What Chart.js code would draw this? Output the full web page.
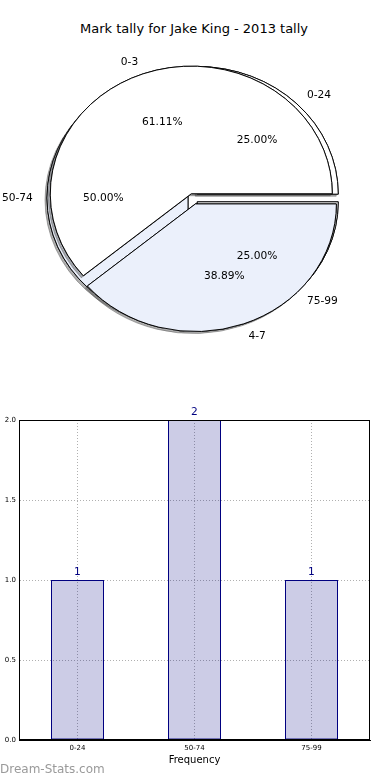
<!DOCTYPE html>
<html>
<head>
<meta charset="utf-8">
<script src="https://cdn.jsdelivr.net/npm/chart.js@4.4.1/dist/chart.umd.min.js"></script>
<style>
    body { margin: 0; background: #fff; }
    #pagina { position: relative; width: 390px; height: 780px; overflow: hidden; font-family: "DejaVu Sans", sans-serif; }
    #titulo { position: absolute; left: 0; top: 21px; width: 388px; text-align: center; font-size: 13px; color: #000; }
    canvas { position: absolute; left: 0; }
    #marca { position: absolute; left: 0; top: 762px; font-size: 12px; color: #9a9a9a; }
</style>
</head>
<body>
<div id="pagina">
    <div id="titulo">Mark tally for Jake King - 2013 tally</div>
    <canvas id="pizzaFundo" width="386" height="330" style="top:33px"></canvas>
    <canvas id="pizzaFrente" width="386" height="330" style="top:33px"></canvas>
    <canvas id="barras" width="390" height="400" style="top:380px"></canvas>
    <div id="marca">Dream-Stats.com</div>
</div>
<script>
// dados
const notas = ["0-3", "4-7"];
const notasPct = [61.11, 38.89];

const faixas = ["0-24", "50-74", "75-99"];
const faixasPct = [25.00, 50.00, 25.00];
const frequencias = [1, 2, 1];

const yTicks = [0, 0.5, 1, 1.5, 2];

// estilo
const SQUASH = 0.905;
const azulClaro = "#ebf0fb";
const azul = "#000080";

// chart.js gira no sentido horario, o matplotlib no anti-horario -> inverte
function inv(lista) { return lista.slice().reverse(); }

const desenhaPizza = {
    id: "desenhaPizza",
    beforeDatasetsDraw(chart) {
        const ctx = chart.ctx;
        const arcs = chart.getDatasetMeta(0).data;
        const explode = chart.data.datasets[0].explode;
        [true, false].forEach(comSombra => {
            arcs.forEach((arc, i) => {
                const meio = (arc.startAngle + arc.endAngle) / 2;
                const e = explode[i];
                ctx.save();
                if (comSombra) {
                    ctx.shadowColor = "rgba(77,77,77,0.45)";
                    ctx.shadowOffsetX = -2;
                    ctx.shadowOffsetY = 2;
                }
                ctx.translate(arc.x + e * Math.cos(meio), arc.y + e * Math.sin(meio) * SQUASH);
                ctx.scale(1, SQUASH);
                ctx.translate(-arc.x, -arc.y);
                arc.draw(ctx);
                ctx.restore();
            });
        });
        return false;
    }
};

function escreveRotulos(ctx, c) {
    const arcs = c.getDatasetMeta(0).data;
    const ds = c.data.datasets[0];
    ctx.save();
    ctx.fillStyle = "#000";
    ctx.font = '10.67px "DejaVu Sans"';
    ctx.textBaseline = "middle";
    arcs.forEach((arc, i) => {
        const meio = (arc.startAngle + arc.endAngle) / 2;
        const cos = Math.cos(meio), sin = Math.sin(meio);
        const e = ds.explode[i];
        const R = arc.outerRadius;
        const d1 = e + 1.1 * R;
        const d2 = e + 0.6 * R;
        ctx.textAlign = cos > 0 ? "left" : "right";
        ctx.fillText(c.data.labels[i], arc.x + d1 * cos, arc.y + d1 * sin * SQUASH);
        ctx.textAlign = "center";
        ctx.fillText(ds.data[i].toFixed(2) + "%", arc.x + d2 * cos, arc.y + d2 * sin * SQUASH);
    });
    ctx.restore();
}

function opcoesPizza() {
    return {
        responsive: false,
        animation: false,
        events: [],
        radius: 141,
        rotation: 90,
        layout: { padding: 0 },
        plugins: { legend: { display: false }, tooltip: { enabled: false } }
    };
}

const pizzaFundo = new Chart(document.getElementById("pizzaFundo"), {
    type: "pie",
    data: {
        labels: inv(faixas),
        datasets: [{
            data: inv(faixasPct),
            backgroundColor: ["#ffffff", azulClaro, "#ffffff"],
            borderColor: "#000",
            borderWidth: 1,
            explode: [6, 5, 6]
        }]
    },
    options: opcoesPizza(),
    plugins: [desenhaPizza]
});

const pizzaFrente = new Chart(document.getElementById("pizzaFrente"), {
    type: "pie",
    data: {
        labels: inv(notas),
        datasets: [{
            data: inv(notasPct),
            backgroundColor: [azulClaro, "#ffffff"],
            borderColor: "#000",
            borderWidth: 1,
            explode: [7, 5]
        }]
    },
    options: opcoesPizza(),
    plugins: [desenhaPizza, {
        id: "textoPizza",
        afterDraw(chart) {
            escreveRotulos(chart.ctx, pizzaFundo);
            escreveRotulos(chart.ctx, chart);
        }
    }]
});

// moldura e numeros em cima das barras
const moldura = {
    id: "moldura",
    afterDraw(chart) {
        const { ctx, chartArea: a } = chart;
        ctx.save();
        ctx.strokeStyle = "#000";
        ctx.lineWidth = 1;
        ctx.strokeRect(Math.round(a.left) + 0.5, Math.round(a.top) + 0.5,
            Math.round(a.right - a.left) - 1, Math.round(a.bottom - a.top) - 1);
        ctx.fillStyle = azul;
        ctx.font = '10.67px "DejaVu Sans"';
        ctx.textAlign = "center";
        ctx.textBaseline = "bottom";
        chart.getDatasetMeta(0).data.forEach((bar, i) => {
            ctx.fillText(String(chart.data.datasets[0].data[i]), bar.x, bar.y - 2);
        });
        ctx.restore();
    }
};

new Chart(document.getElementById("barras"), {
    type: "bar",
    data: {
        labels: faixas,
        datasets: [{
            data: frequencias,
            backgroundColor: "rgba(0,0,128,0.2)",
            borderColor: azul,
            borderWidth: 1,
            borderSkipped: false,
            barPercentage: 53 / 117,
            categoryPercentage: 1
        }]
    },
    options: {
        responsive: false,
        animation: false,
        events: [],
        layout: { padding: { top: 40, right: 20, left: 0, bottom: 0 } },
        plugins: { legend: { display: false }, tooltip: { enabled: false } },
        scales: {
            x: {
                grid: { offset: false, color: "#b0b0b0", drawTicks: false },
                border: { color: "#000", dash: [1, 2] },
                ticks: { font: { family: "DejaVu Sans", size: 7 }, color: "#000", padding: 4 },
                title: { display: true, text: "Frequency", color: "#000",
                    font: { family: "DejaVu Sans", size: 10 }, padding: { top: 0, bottom: 14 } },
                afterFit: s => { s.height = 40; }
            },
            y: {
                min: 0,
                max: 2,
                afterBuildTicks: s => { s.ticks = yTicks.map(v => ({ value: v })); },
                ticks: { font: { family: "DejaVu Sans", size: 7 }, color: "#000", padding: 3,
                    callback: v => Number(v).toFixed(1) },
                grid: { color: "#b0b0b0", drawTicks: false },
                border: { color: "#000", dash: [1, 2] },
                afterFit: s => { s.width = 19; }
            }
        }
    },
    plugins: [moldura]
});
</script>
</body>
</html>
